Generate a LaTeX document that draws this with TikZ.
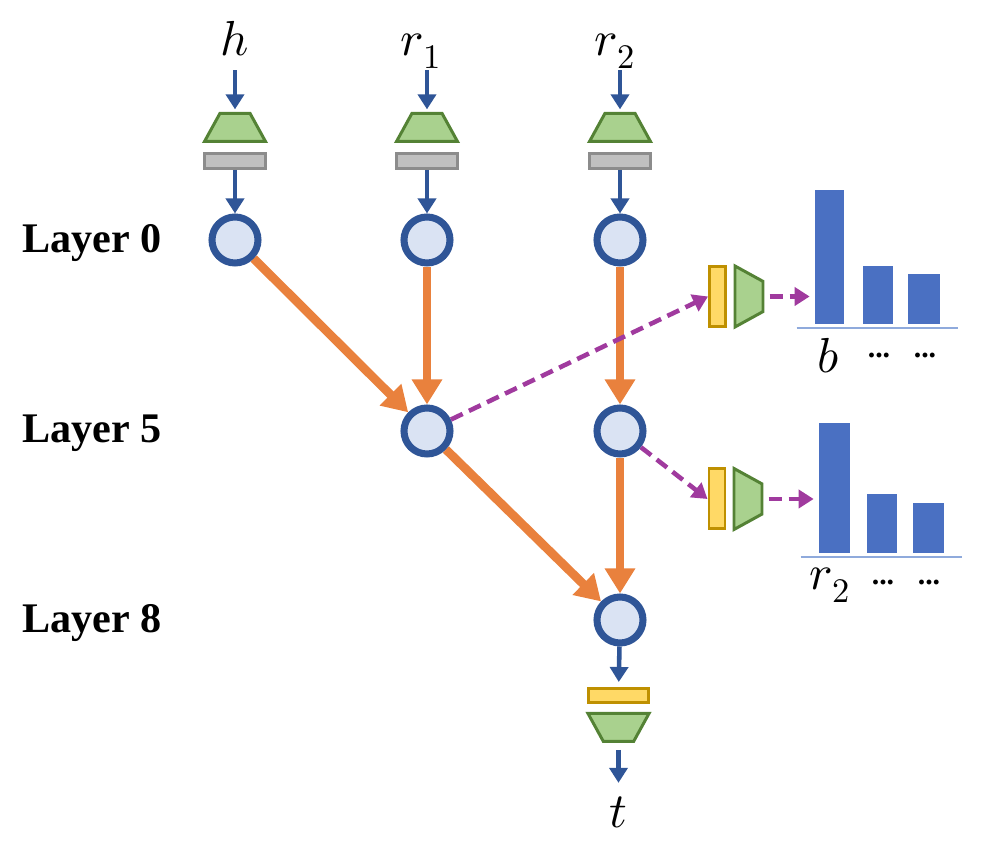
\documentclass[tikz,border=0pt]{standalone}
\usepackage{unicode-math}
\setmainfont{Liberation Serif}
\setmathfont{Latin Modern Math}
\usepackage{tikz}
\usetikzlibrary{arrows.meta,calc,positioning,shapes.geometric}
\definecolor{lyrBlue}{HTML}{2F5597}
\definecolor{lyrBlueLight}{HTML}{DAE3F3}
\definecolor{lyrGreen}{HTML}{548235}
\definecolor{lyrGreenLight}{HTML}{A9D18E}
\definecolor{lyrGray}{HTML}{8C8C8C}
\definecolor{lyrGrayLight}{HTML}{C0C0C0}
\definecolor{lyrYellow}{HTML}{BF9000}
\definecolor{lyrYellowLight}{HTML}{FFD966}
\definecolor{lyrOrange}{HTML}{E9813D}
\definecolor{lyrPurple}{HTML}{A03A9E}
\definecolor{lyrBar}{HTML}{4A70C2}
\definecolor{lyrAxis}{HTML}{8FAADC}

\begin{document}
\begin{tikzpicture}[>=Stealth,
  unit/.style={circle,draw=lyrBlue,fill=lyrBlueLight,line width=4pt,minimum size=0.92cm,inner sep=0pt},
  embed/.style={trapezium,trapezium stretches=true,trapezium angle=63,draw=lyrGreen,fill=lyrGreenLight,line width=1.7pt,minimum width=1.22cm,minimum height=0.56cm,inner sep=1pt},
  normbox/.style={draw=lyrGray,fill=lyrGrayLight,line width=1.7pt,minimum width=1.22cm,minimum height=0.30cm,inner sep=0pt},
  probebox/.style={draw=lyrYellow,fill=lyrYellowLight,line width=1.7pt,inner sep=0pt},
  bar/.style={fill=lyrBar,anchor=south,inner sep=0pt},
  tok/.style={font=\fontsize{28}{32}\selectfont,text depth=0pt,inner sep=0.28cm},
  layer/.style={font=\fontsize{24}{28}\selectfont\bfseries,anchor=base west,inner sep=0pt},
  dots/.style={font=\fontsize{17}{20}\selectfont\bfseries,inner sep=0pt},
  feed/.style={->,lyrBlue,line width=2.6pt,arrows={-Triangle[length=0.3cm,width=0.36cm]}},
  flow/.style={->,lyrOrange,line width=5pt,arrows={-Triangle[length=0.5cm,width=0.58cm]}},
  probe/.style={->,lyrPurple,line width=2.6pt,dash pattern=on 0.26cm off 0.14cm,arrows={-Triangle[length=0.3cm,width=0.36cm]}}]
  \path[use as bounding box] (0,0) rectangle (19.62,16.92);

  % inputs
  \node[tok,anchor=base] (h) at (4.70,15.80) {$h$};
  \node[tok,anchor=base] (r1) at (8.42,15.80) {$r_1$};
  \node[tok,anchor=base] (r2) at (12.30,15.80) {$r_2$};

  \node[embed] (eH) at (4.70,14.37) {};
  \node[embed] (eR1) at (8.54,14.37) {};
  \node[embed] (eR2) at (12.40,14.37) {};
  \node[normbox] (nH) at (4.70,13.70) {};
  \node[normbox] (nR1) at (8.54,13.70) {};
  \node[normbox] (nR2) at (12.40,13.70) {};

  % layers
  \node[layer] (l0) at (0.44,11.86) {Layer 0};
  \node[layer] (l5) at (0.44,8.06) {Layer 5};
  \node[layer] (l8) at (0.44,4.26) {Layer 8};

  \node[unit] (u0a) at (4.70,12.12) {};
  \node[unit] (u0b) at (8.54,12.12) {};
  \node[unit] (u0c) at (12.40,12.12) {};
  \node[unit] (u5a) at (8.54,8.30) {};
  \node[unit] (u5b) at (12.40,8.30) {};
  \node[unit] (u8) at (12.40,4.52) {};

  \draw[feed,shorten >=1.5pt] (eH.north |- h.south) -- (eH.north);
  \draw[feed,shorten >=1.5pt] (eR1.north |- r1.south) -- (eR1.north);
  \draw[feed,shorten >=1.5pt] (eR2.north |- r2.south) -- (eR2.north);
  \draw[feed] (nH.south) -- (u0a);
  \draw[feed] (nR1.south) -- (u0b);
  \draw[feed] (nR2.south) -- (u0c);

  \draw[flow] (u0a) -- (u5a);
  \draw[flow] (u0b) -- (u5a);
  \draw[flow] (u0c) -- (u5b);
  \draw[flow] (u5a) -- (u8);
  \draw[flow] (u5b) -- (u8);

  % output
  \node[probebox,minimum width=1.20cm,minimum height=0.28cm] (yT) at (12.37,3.01) {};
  \node[embed,rotate=180] (eT) at (12.37,2.37) {};
  \node[tok,anchor=base] (t) at (12.37,0.36) {$t$};
  \draw[feed,shorten >=0.1cm] (u8) -- (yT);
  \draw[feed,shorten <=0.14cm] (eT) -- (t);

  % probes
  \node[probebox,minimum width=0.32cm,minimum height=1.20cm] (yB) at (14.35,10.99) {};
  \node[embed,rotate=-90] (eB) at (14.98,10.99) {};
  \node[probebox,minimum width=0.32cm,minimum height=1.20cm] (yR) at (14.34,6.94) {};
  \node[embed,rotate=-90] (eR) at (14.96,6.94) {};
  \draw[probe] (u5a) -- (yB.west);
  \draw[probe] (u5b) -- (yR.west);

  \node[bar,minimum width=0.58cm,minimum height=2.68cm] (bB1) at (16.59,10.44) {};
  \node[bar,minimum width=0.60cm,minimum height=1.16cm] (bB2) at (17.56,10.44) {};
  \node[bar,minimum width=0.64cm,minimum height=1.00cm] (bB3) at (18.48,10.44) {};
  \draw[lyrAxis,line width=1.1pt] ($(bB1.south west)+(-0.36,-0.08)$) -- ($(bB3.south east)+(0.36,-0.08)$);
  \draw[probe,shorten <=0.1cm,shorten >=0.1cm] (eB) -- (eB -| bB1.west);
  \node[tok,anchor=base,inner sep=0pt] (lb) at (16.56,9.46) {$b$};
  \node[dots] (dB1) at (17.58,9.80) {...};
  \node[dots] (dB2) at (18.50,9.80) {...};

  \node[bar,minimum width=0.62cm,minimum height=2.60cm] (bR1) at (16.69,5.86) {};
  \node[bar,minimum width=0.60cm,minimum height=1.18cm] (bR2) at (17.64,5.86) {};
  \node[bar,minimum width=0.62cm,minimum height=1.00cm] (bR3) at (18.57,5.86) {};
  \draw[lyrAxis,line width=1.1pt] ($(bR1.south west)+(-0.36,-0.08)$) -- ($(bR3.south east)+(0.36,-0.08)$);
  \draw[probe,shorten <=0.1cm,shorten >=0.1cm] (eR) -- (eR -| bR1.west);
  \node[tok,anchor=base,inner sep=0pt] (lr) at (16.60,5.12) {$r_2$};
  \node[dots] (dR1) at (17.66,5.26) {...};
  \node[dots] (dR2) at (18.58,5.26) {...};
\end{tikzpicture}
\end{document}
